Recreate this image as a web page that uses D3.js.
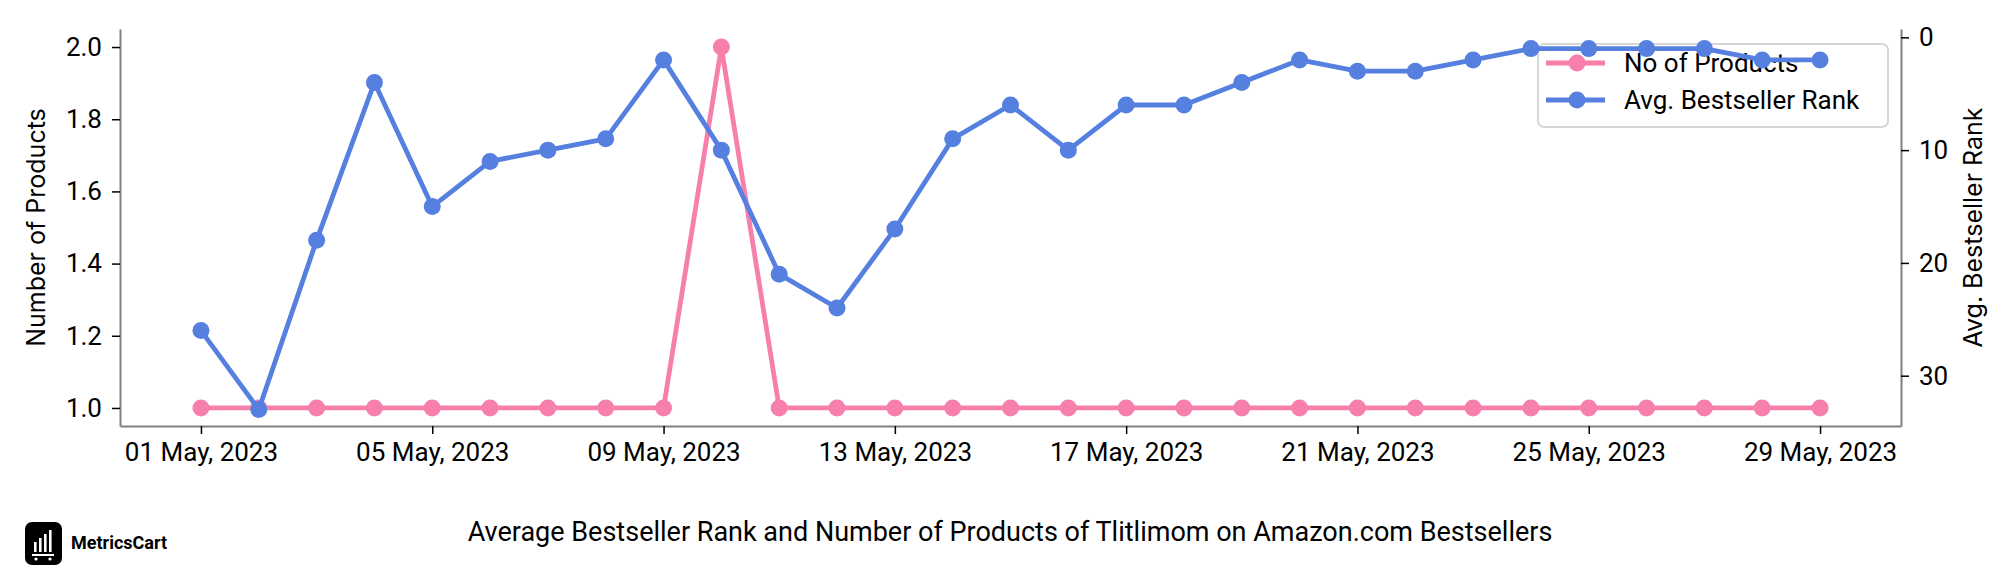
<!DOCTYPE html>
<html>
<head>
<meta charset="utf-8">
<script src="https://cdn.jsdelivr.net/npm/d3@7"></script>
<style>
  body { margin: 0; background: #fff; }
  svg { display: block; font-family: Inter, Roboto, sans-serif; }
</style>
</head>
<body>
<svg id="chart" width="2016" height="576"></svg>
<script>
// ---- data
const dates = d3.range(1, 30).map(d => new Date(2023, 4, d))
const noOfProducts = [1, 1, 1, 1, 1, 1, 1, 1, 1, 2, 1, 1, 1, 1, 1, 1, 1, 1, 1, 1, 1, 1, 1, 1, 1, 1, 1, 1, 1]
const avgRank = [26, 33, 18, 4, 15, 11, 10, 9, 2, 10, 21, 24, 17, 9, 6, 10, 6, 6, 4, 2, 3, 3, 2, 1, 1, 1, 1, 2, 2]
const leftTicks = [1.0, 1.2, 1.4, 1.6, 1.8, 2.0]
const rightTicks = [0, 10, 20, 30]
const xTickDates = [1, 5, 9, 13, 17, 21, 25, 29].map(d => new Date(2023, 4, d))
const seriesNames = ["No of Products", "Avg. Bestseller Rank"]
const colors = ["#f77fab", "#5680e0"]
const titleText = "Average Bestseller Rank and Number of Products of Tlitlimom on Amazon.com Bestsellers"

const svg = d3.select("#chart")
const margin = { top: 29, right: 115, bottom: 150, left: 120 }
const W = 2016, H = 576

// x with matplotlib-like 5% padding
const pad = (dates[dates.length - 1] - dates[0]) * 0.05
const x = d3.scaleTime()
  .domain([new Date(+dates[0] - pad), new Date(+dates[dates.length - 1] + pad)])
  .range([margin.left, W - margin.right])
const yL = d3.scaleLinear().domain([0.95, 2.05]).range([H - margin.bottom, margin.top])
const yR = d3.scaleLinear().domain([-0.74, 34.46]).range([margin.top, H - margin.bottom])

const axisColor = "#808080"
function styleAxis(g) {
  g.select(".domain").attr("stroke", axisColor).attr("stroke-width", 2)
  g.selectAll(".tick line").attr("stroke", "#000").attr("stroke-width", 1.5)
  g.selectAll(".tick text").attr("fill", "#000").style("font-size", "26px").style("font-family", "Roboto, sans-serif")
}

// axes
svg.append("g").attr("transform", `translate(0,${H - margin.bottom})`)
  .call(d3.axisBottom(x).tickValues(xTickDates).tickFormat(d3.timeFormat("%d %b, %Y")).tickSize(8).tickSizeOuter(0).tickPadding(9))
  .call(styleAxis)
svg.append("g").attr("transform", `translate(${margin.left},0)`)
  .call(d3.axisLeft(yL).tickValues(leftTicks).tickFormat(d3.format(".1f")).tickSize(8).tickSizeOuter(0).tickPadding(10))
  .call(styleAxis)
svg.append("g").attr("transform", `translate(${W - margin.right},0)`)
  .call(d3.axisRight(yR).tickValues(rightTicks).tickSize(8).tickSizeOuter(0).tickPadding(10))
  .call(styleAxis)

// axis labels
svg.append("text").attr("transform", `translate(38,${(margin.top + H - margin.bottom) / 2}) rotate(-90)`)
  .attr("text-anchor", "middle").attr("dominant-baseline", "middle").style("font-size", "25px").text("Number of Products")
svg.append("text").attr("transform", `translate(1975,${(margin.top + H - margin.bottom) / 2}) rotate(-90)`)
  .attr("text-anchor", "middle").attr("dominant-baseline", "middle").style("font-size", "25px").text("Avg. Bestseller Rank")

function drawSeries(values, yScale, color, cls) {
  const pts = values.map((v, i) => [dates[i], v])
  svg.append("path").datum(pts)
    .attr("d", d3.line().x(d => x(d[0])).y(d => yScale(d[1])))
    .attr("fill", "none").attr("stroke", color).attr("stroke-width", 4.8).attr("stroke-linejoin", "round")
  svg.selectAll("." + cls).data(pts).join("circle").attr("class", cls)
    .attr("cx", d => x(d[0])).attr("cy", d => yScale(d[1])).attr("r", 8.5).attr("fill", color)
}

drawSeries(noOfProducts, yL, colors[0], "dot_products")

// legend (under second axis series, like twinx)
const lg = svg.append("g").attr("transform", "translate(1538,44)")
lg.append("rect").attr("width", 350).attr("height", 83).attr("rx", 6)
  .attr("fill", "rgba(255,255,255,0.8)").attr("stroke", "#d6d6d6").attr("stroke-width", 2)
seriesNames.forEach((name, i) => {
  const yy = 19 + i * 37
  lg.append("line").attr("x1", 8).attr("x2", 67).attr("y1", yy).attr("y2", yy).attr("stroke", colors[i]).attr("stroke-width", 4.8)
  lg.append("circle").attr("cx", 39).attr("cy", yy).attr("r", 8.5).attr("fill", colors[i])
  lg.append("text").attr("x", 86).attr("y", yy).attr("dominant-baseline", "central")
    .style("font-size", "26px").style("font-family", "Roboto, sans-serif").text(name)
})

drawSeries(avgRank, yR, colors[1], "dot_rank")

// title
svg.append("text").attr("x", 1010).attr("y", 541).attr("text-anchor", "middle")
  .style("font-size", "27px").style("font-family", "Roboto, sans-serif").text(titleText)

// logo
const logo = svg.append("g").attr("transform", "translate(25,522)")
logo.append("rect").attr("width", 37).attr("height", 43).attr("rx", 7).attr("fill", "#000")
;[[9, 20, 10], [14, 16, 14], [19, 12, 18], [24, 8, 22]].forEach(b => {
  logo.append("rect").attr("x", b[0]).attr("y", b[1]).attr("width", 2.6).attr("height", b[2]).attr("fill", "#fff")
})
logo.append("line").attr("x1", 7).attr("x2", 29).attr("y1", 33).attr("y2", 33).attr("stroke", "#fff").attr("stroke-width", 2)
logo.append("circle").attr("cx", 11).attr("cy", 37).attr("r", 1.6).attr("fill", "#fff")
logo.append("circle").attr("cx", 25).attr("cy", 37).attr("r", 1.6).attr("fill", "#fff")
svg.append("text").attr("x", 71).attr("y", 542).attr("dominant-baseline", "central")
  .style("font-size", "18px").style("font-weight", "bold").style("font-family", "Roboto, sans-serif").text("MetricsCart")
</script>
</body>
</html>
